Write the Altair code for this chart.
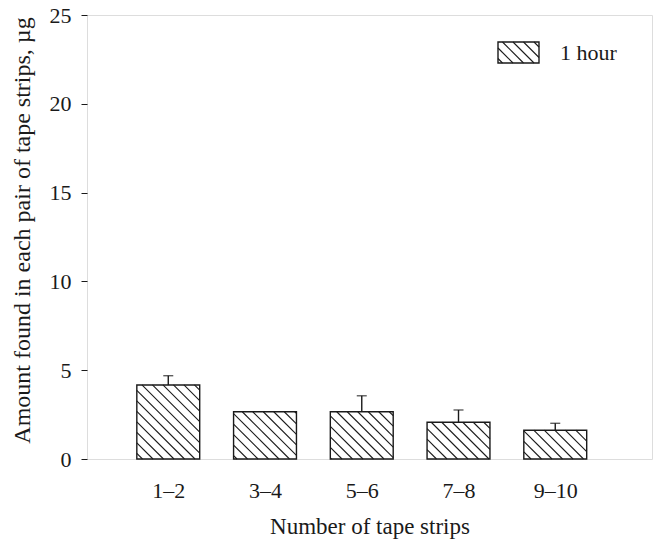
import altair as alt
import pandas as pd
import numpy as np

# ---- data ----
categories = ["1–2", "3–4", "5–6", "7–8", "9–10"]
values = [4.17, 2.66, 2.66, 2.07, 1.62]
upper = [4.69, None, 3.56, 2.76, 2.01]
legend_label = "1 hour"
x_title = "Number of tape strips"
y_title = "Amount found in each pair of tape strips, µg"
y_ticks = [0, 5, 10, 15, 20, 25]

# ---- layout / style ----
W, H = 565, 444
XDOM = [0.16, 6.0]
YDOM = [0, 25]
BAR_HALF = 0.325
SPACING = 10.5
FONT = "Liberation Serif"
INK = "#1a1a1a"

sx = W / (XDOM[1] - XDOM[0])
sy = H / (YDOM[1] - YDOM[0])


def to_px(x, y):
    return (x - XDOM[0]) * sx, H - (y - YDOM[0]) * sy


def to_data(px, py):
    return XDOM[0] + px / sx, YDOM[0] + (H - py) / sy


def hatch(l, r, t, b, s=SPACING):
    """diagonal (\\) hatch segments inside pixel rect, returned in data units"""
    rows = []
    kmin = int(np.floor((l - b) / s))
    kmax = int(np.ceil((r - t) / s))
    for k in range(kmin, kmax + 1):
        K = k * s
        y0 = max(t, l - K)
        y1 = min(b, r - K)
        if y1 - y0 < 0.8:
            continue
        xa, ya = to_data(y0 + K, y0)
        xb, yb = to_data(y1 + K, y1)
        rows.append({"x": xa, "y": ya, "x2": xb, "y2": yb})
    return rows


pos = list(range(1, len(categories) + 1))
bars = pd.DataFrame({
    "pos": pos,
    "cat": categories,
    "value": values,
    "x0": [p - BAR_HALF for p in pos],
    "x1": [p + BAR_HALF for p in pos],
})
errs = pd.DataFrame({"pos": pos, "value": values, "upper": upper}).dropna()

hatch_rows = []
for p, v in zip(pos, values):
    l, t = to_px(p - BAR_HALF, v)
    r, b = to_px(p + BAR_HALF, 0)
    hatch_rows += hatch(l, r, t, b)

# legend swatch (pixel placement inside plot area)
LX0, LX1, LY0, LY1 = 411, 452, 27, 48
hatch_rows += hatch(LX0, LX1, LY0, LY1)
hatch_df = pd.DataFrame(hatch_rows)

xscale = alt.Scale(domain=XDOM, nice=False, zero=False)
yscale = alt.Scale(domain=YDOM, nice=False)

label_expr = "[" + ",".join("'" + c + "'" for c in categories) + "][datum.value - 1]"

xaxis = alt.Axis(
    values=pos, labelExpr=label_expr, title=x_title, ticks=False, tickSize=0,
    domain=False, grid=False, labelPadding=21, labelFontSize=22, titleFontSize=23,
    labelFont=FONT, titleFont=FONT, labelColor=INK, titleColor=INK,
    titleFontWeight="normal", titleY=74, titleBaseline="alphabetic",
)
yaxis = alt.Axis(
    values=y_ticks, title=y_title, ticks=True, tickSize=6, tickColor=INK,
    domain=False, grid=False, labelPadding=10, labelFontSize=22, titleFontSize=24,
    labelFont=FONT, titleFont=FONT, labelColor=INK, titleColor=INK,
    titleFontWeight="normal", titleX=-65, titleY=215, titleAngle=-90,
    titleAlign="center", titleBaseline="middle",
)

base = alt.Chart(bars)

rects = base.mark_rect(fill="white", stroke=INK, strokeWidth=1.4).encode(
    x=alt.X("x0:Q", scale=xscale, axis=xaxis),
    x2="x1:Q",
    y=alt.Y("value:Q", scale=yscale, axis=yaxis),
    y2=alt.datum(0),
)

lines = alt.Chart(hatch_df).mark_rule(color=INK, strokeWidth=1.1).encode(
    x=alt.X("x:Q", scale=xscale), y=alt.Y("y:Q", scale=yscale), x2="x2:Q", y2="y2:Q"
)

err_v = alt.Chart(errs).mark_rule(color=INK, strokeWidth=1.4).encode(
    x=alt.X("pos:Q", scale=xscale), y=alt.Y("value:Q", scale=yscale), y2="upper:Q"
)
err_cap = alt.Chart(errs).mark_tick(color=INK, orient="horizontal", size=10, thickness=1.4).encode(
    x=alt.X("pos:Q", scale=xscale), y=alt.Y("upper:Q", scale=yscale)
)

leg_box = alt.Chart(bars).mark_rect(fill="white", stroke=INK, strokeWidth=1.4).encode(
    x=alt.value(LX0), x2=alt.value(LX1), y=alt.value(LY0), y2=alt.value(LY1)
).transform_filter("datum.pos == 1")

leg_text = alt.Chart(bars).mark_text(
    text=legend_label, font=FONT, fontSize=22, color=INK, align="left", baseline="alphabetic"
).encode(x=alt.value(473), y=alt.value(45)).transform_filter("datum.pos == 1")

chart = alt.layer(rects, err_v, err_cap, leg_box, lines, leg_text).properties(
    width=W, height=H,
    autosize=alt.AutoSizeParams(type="none"),
    padding={"left": 87, "top": 15, "right": 8, "bottom": 87},
).configure_view(stroke=INK, strokeWidth=1.3).configure(background="white")

chart.save("out.html", embed_options={"renderer": "svg", "actions": False})
